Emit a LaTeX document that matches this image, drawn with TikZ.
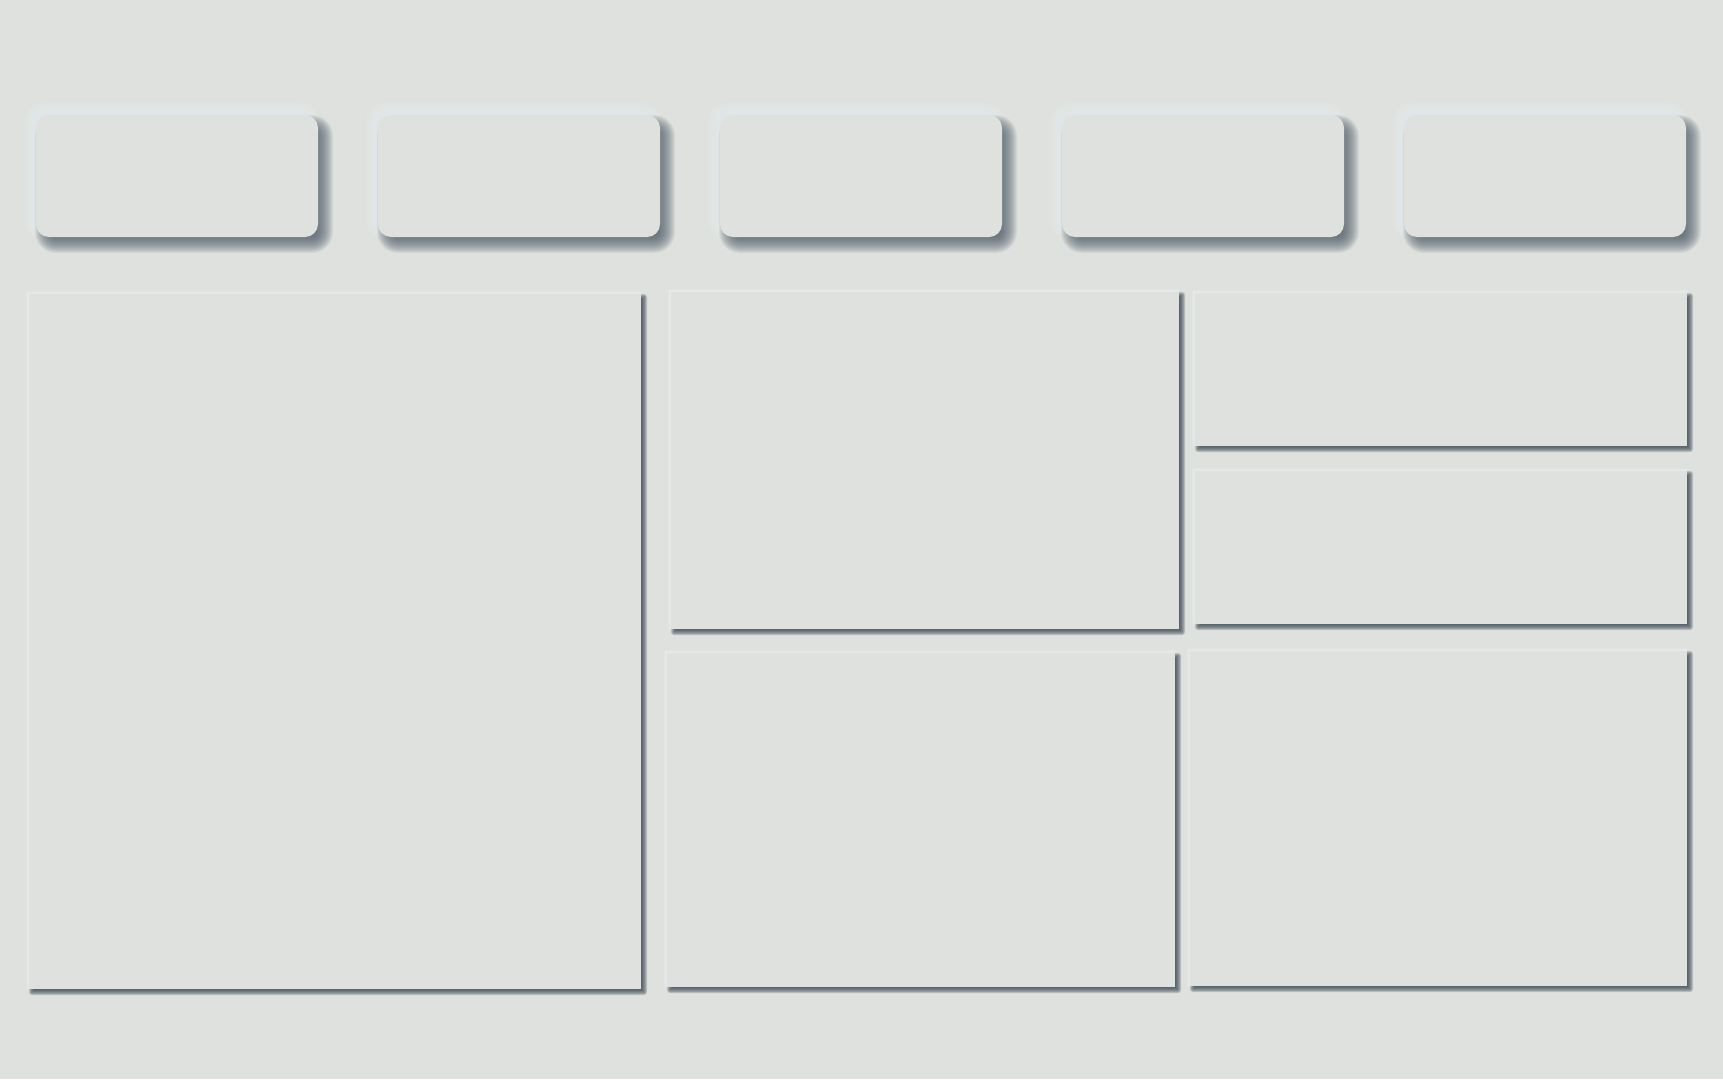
\documentclass[tikz,border=0pt]{standalone}
\usetikzlibrary{calc}
\definecolor{bgc}{RGB}{223,225,222}
\definecolor{shd}{RGB}{78,92,104}
\definecolor{pshd}{RGB}{58,70,82}
\definecolor{hil}{RGB}{238,243,246}
\pgfdeclarelayer{back}
\pgfsetlayers{back,main}
\tikzset{
  card/.style={fill=bgc, draw=none, rounded corners=13pt, minimum width=282pt, minimum height=122pt, inner sep=0pt, outer sep=0pt},
  panel/.style={fill=bgc, draw=none, inner sep=0pt, outer sep=0pt, anchor=north west},
}
% blurred shadow: #1 node, #2 dx, #3 dy, #4 blur half-width, #5 radius, #6 options
\newcommand\softshadow[6]{%
  \foreach \k in {-#4,...,#4} {
    \pgfmathsetmacro\rr{max(0,#5+\k)}%
    \fill[#6, rounded corners=\rr pt] ($(#1.north west)+(#2-\k,#3-\k)$) rectangle ($(#1.south east)+(#2+\k,#3+\k)$);
  }}
\begin{document}
\begin{tikzpicture}[x=1pt,y=-1pt]
\useasboundingbox (0,0) rectangle (1723,1079);
% top cards
\foreach \n/\cx in {t1/177,t2/519,t3/861,t4/1203,t5/1545}{
  \node[card] (\n) at (\cx,176) {};
}
% panels
\node[panel, minimum width=612pt, minimum height=695pt] (p1) at (29,294) {};
\node[panel, minimum width=508pt, minimum height=337pt] (p2) at (671,292) {};
\node[panel, minimum width=508pt, minimum height=334pt] (p3) at (667,653) {};
\node[panel, minimum width=492pt, minimum height=153pt] (p4) at (1195,293) {};
\node[panel, minimum width=492pt, minimum height=153pt] (p5) at (1195,471) {};
\node[panel, minimum width=497pt, minimum height=335pt] (p6) at (1190,651) {};
\begin{pgfonlayer}{back}
  \fill[bgc] (0,0) rectangle (1723,1079);
  \foreach \n in {t1,t2,t3,t4,t5}{
    \softshadow{\n}{-5}{-5}{8}{13}{hil, opacity=0.065}
    \softshadow{\n}{7}{8}{8}{13}{shd, opacity=0.08}
  }
  \foreach \n in {p1,p2,p3,p4,p5,p6}{
    \softshadow{\n}{-1}{-1}{2}{0}{hil, opacity=0.2}
    \softshadow{\n}{3}{3}{3}{0}{pshd, opacity=0.23}
  }
\end{pgfonlayer}
\end{tikzpicture}
\end{document}
